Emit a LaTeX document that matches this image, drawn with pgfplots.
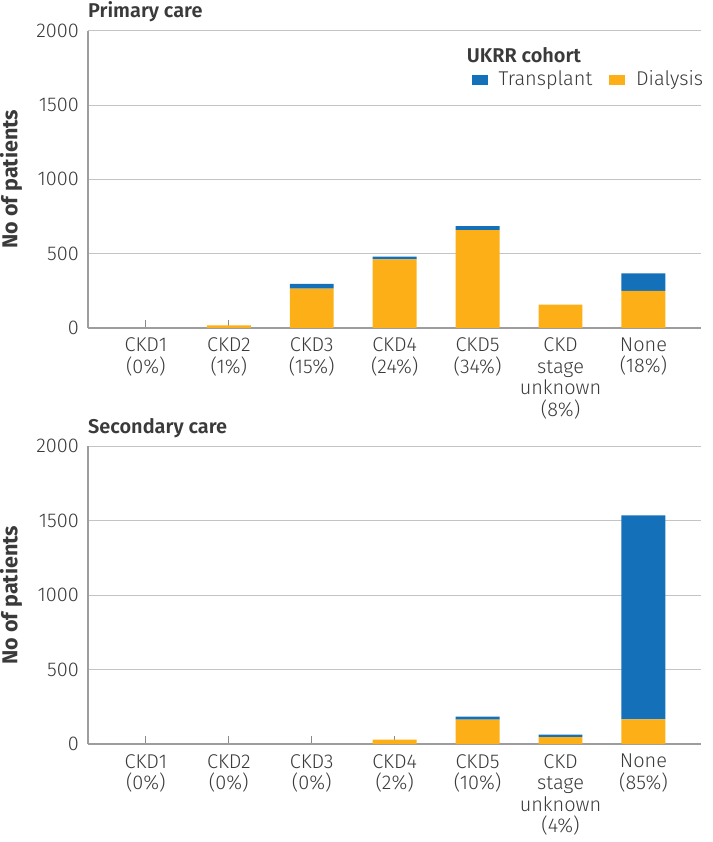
\documentclass[border=0pt]{standalone}
\usepackage{pgfplots}
\pgfplotsset{compat=1.18}
\usepackage{fontspec}
\setmainfont{Fira Sans}[UprightFont=* Light, BoldFont=* SemiBold]
\newfontfamily\ylabfont{Fira Sans}[UprightFont=* Bold]
\definecolor{tblue}{HTML}{1470B8}
\definecolor{dorange}{HTML}{FCAF17}
\definecolor{gridgray}{HTML}{C4C4C4}
\definecolor{txt}{HTML}{3A3A3A}

\pgfplotsset{
  ckdbars/.style={
    scale only axis,
    width=308pt,
    ybar stacked,
    bar width=0.53,
    xmin=-0.7, xmax=6.7,
    ymin=0, ymax=2000,
    ytick={0,500,1000,1500,2000},
    xtick={0,...,6},
    axis x line*=bottom,
    axis y line*=left,
    ymajorgrids,
    grid style={gridgray, line width=0.6pt},
    axis line style={gridgray!80!black, line width=0.7pt},
    x axis line style={line width=0.9pt},
    ytick style={draw=none},
    xtick style={gridgray!70!black, line width=0.5pt},
    tick align=inside,
    major tick length=4pt,
    font=\fontsize{10}{11}\selectfont,
    tick label style={txt},
    /pgf/number format/assume math mode=true,
    /pgf/number format/1000 sep={},
    xticklabel style={align=center, yshift=-1.5pt, font=\fontsize{10}{10.8}\selectfont},
    yticklabel style={xshift=-1pt},
    every axis y label/.style={at={([xshift=-38.5pt]rel axis cs:0,0.5)}, rotate=90, anchor=center,
      inner sep=0pt, font=\fontsize{10.8}{12}\ylabfont, txt},
    ylabel={No of patients},
    every axis title/.style={at={(rel axis cs:0,1)}, anchor=base west, yshift=6.5pt, inner sep=0pt,
      font=\fontsize{10}{12}\bfseries, txt},
  },
}

\begin{document}
\begin{tikzpicture}
\begin{axis}[
  ckdbars,
  height=149pt,
  title={Primary care},
  xticklabels={{CKD1\\(0\%)},{CKD2\\(1\%)},{CKD3\\(15\%)},{CKD4\\(24\%)},{CKD5\\(34\%)},{CKD\\stage\\unknown\\(8\%)},{None\\(18\%)}},
  reverse legend,
  legend columns=2,
  legend image code/.code={\fill[#1] (0pt,-2.5pt) rectangle (8pt,2.5pt);},
  legend style={at={(rel axis cs:0.615,0.836)}, anchor=west, draw=none, fill=none,
    font=\fontsize{10}{12}\selectfont, text=txt,
    nodes={inner sep=1.5pt},
    /tikz/every odd column/.append style={column sep=4pt},
    /tikz/every even column/.append style={column sep=7pt}},
]
% dialysis
\addplot[fill=dorange, draw=none] coordinates {(0,0) (1,16) (2,263) (3,460) (4,658) (5,156) (6,248)};
% transplant
\addplot[fill=tblue, draw=none] coordinates {(0,0) (1,0) (2,32) (3,20) (4,27) (5,0) (6,118)};
\legend{Dialysis,Transplant}
\node[anchor=base west, inner sep=0pt, font=\fontsize{10}{12}\bfseries, text=txt] at (rel axis cs:0.617,0.893) {UKRR cohort};
\end{axis}

\begin{axis}[
  ckdbars,
  at={(0pt,-209pt)},
  height=149.5pt,
  title={Secondary care},
  xticklabels={{CKD1\\(0\%)},{CKD2\\(0\%)},{CKD3\\(0\%)},{CKD4\\(2\%)},{CKD5\\(10\%)},{CKD\\stage\\unknown\\(4\%)},{None\\(85\%)}},
]
% dialysis
\addplot[fill=dorange, draw=none] coordinates {(0,0) (1,0) (2,0) (3,31) (4,165) (5,47) (6,167)};
% transplant
\addplot[fill=tblue, draw=none] coordinates {(0,0) (1,0) (2,0) (3,0) (4,20) (5,18) (6,1369)};
\end{axis}
\path (-44pt,164.5pt) rectangle (308pt,-256.5pt);
\end{tikzpicture}
\end{document}
